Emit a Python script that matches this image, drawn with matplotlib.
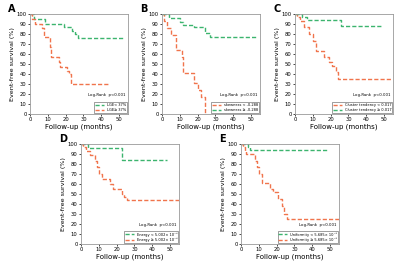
import numpy as np
import matplotlib.pyplot as plt

GREEN = '#3cb46e'
ORANGE = '#f0744c'

# panel A
a_green_t = [0, 2, 8.5, 19, 23.5, 25.5, 27, 53]
a_green_s = [100, 95, 90, 87, 83, 80, 76, 76]
a_orange_t = [0, 1, 3, 7, 8, 11, 12, 16, 17, 21, 22, 23, 45]
a_orange_s = [100, 95, 90, 86, 77, 67, 57, 52, 47, 43, 40, 30, 30]
# panel B
b_green_t = [0, 4, 10, 12, 18, 24, 27, 53]
b_green_s = [100, 96, 92, 89, 87, 81, 77, 77]
b_orange_t = [0, 1, 3, 5, 8, 11, 12, 18, 20, 22, 24]
b_orange_s = [100, 93, 86, 79, 64, 57, 41, 31, 24, 17, 0]
# panel C
c_green_t = [0, 4, 7, 26, 48]
c_green_s = [100, 97, 94, 88, 88]
c_orange_t = [0, 1, 3, 5, 8, 10, 12, 16, 19, 21, 23, 24, 54]
c_orange_s = [100, 97, 93, 87, 80, 73, 63, 57, 52, 48, 42, 35, 35]
# panel D
d_green_t = [0, 4, 23, 48]
d_green_s = [100, 96, 84, 84]
d_orange_t = [0, 1, 3, 5, 8, 9, 10, 12, 16, 18, 23, 24, 26, 55]
d_orange_s = [100, 97, 93, 89, 83, 77, 70, 65, 60, 55, 50, 47, 44, 44]
# panel E
e_green_t = [0, 4, 5, 49]
e_green_s = [100, 97, 94, 94]
e_orange_t = [0, 1, 2, 3, 8, 9, 10, 12, 16, 18, 21, 23, 24, 26, 55]
e_orange_s = [100, 97, 93, 90, 83, 77, 70, 61, 55, 52, 45, 38, 30, 25, 25]

panels = [
    ('A', [0.075, 0.575], [(a_green_t, a_green_s, GREEN, 'LGE< 37%'),
                           (a_orange_t, a_orange_s, ORANGE, 'LGE\u2265 37%')]),
    ('B', [0.405, 0.575], [(b_orange_t, b_orange_s, ORANGE, 'skewness < -0.288'),
                           (b_green_t, b_green_s, GREEN, 'skewness \u2265 -0.288')]),
    ('C', [0.7375, 0.575], [(c_orange_t, c_orange_s, ORANGE, 'Cluster tendency < 0.017'),
                            (c_green_t, c_green_s, GREEN, 'Cluster tendency \u2265 0.017')]),
    ('D', [0.2025, 0.09], [(d_green_t, d_green_s, GREEN, 'Energy < 5.002\u00d7 10\u207b\u2075'),
                           (d_orange_t, d_orange_s, ORANGE, 'Energy \u2265 5.002\u00d7 10\u207b\u2075')]),
    ('E', [0.6025, 0.09], [(e_green_t, e_green_s, GREEN, 'Uniformity < 5.685\u00d7 10\u207b\u2075'),
                           (e_orange_t, e_orange_s, ORANGE, 'Uniformity \u2265 5.685\u00d7 10\u207b\u2075')]),
]

fig = plt.figure(figsize=(4, 2.68), dpi=100)

for letter, (left, bottom), curves in panels:
    ax = fig.add_axes([left, bottom, 0.245, 0.373])
    for t, s, col, lab in curves:
        ax.plot(t, s, drawstyle='steps-post', color=col, ls='--', lw=1.0,
                dashes=(3, 1.5), label=lab)
    ax.set_xlim(0, 55)
    ax.set_ylim(0, 100)
    ax.set_xticks(range(0, 51, 10))
    ax.set_yticks(range(0, 101, 10))
    ax.tick_params(labelsize=3.8, length=1.5, width=0.5, pad=1)
    for sp in ax.spines.values():
        sp.set_color('#999999')
        sp.set_linewidth(0.6)
    ax.set_xlabel('Follow-up (months)', fontsize=5, labelpad=1)
    ax.set_ylabel('Event-free survival (%)', fontsize=4.6, labelpad=1)
    ax.text(-0.22, 1.1, letter, transform=ax.transAxes, fontsize=7,
            fontweight='bold', va='top')
    ax.text(0.97, 0.165, 'Log-Rank  p<0.001', transform=ax.transAxes,
            fontsize=2.8, ha='right', va='bottom')
    leg = ax.legend(loc='lower right', fontsize=2.6, handlelength=2.5,
                    borderpad=0.25, labelspacing=0.2, fancybox=False,
                    framealpha=1, edgecolor='#777777', borderaxespad=0.25)
    leg.get_frame().set_linewidth(0.5)

fig.savefig('out.png', dpi=100)
